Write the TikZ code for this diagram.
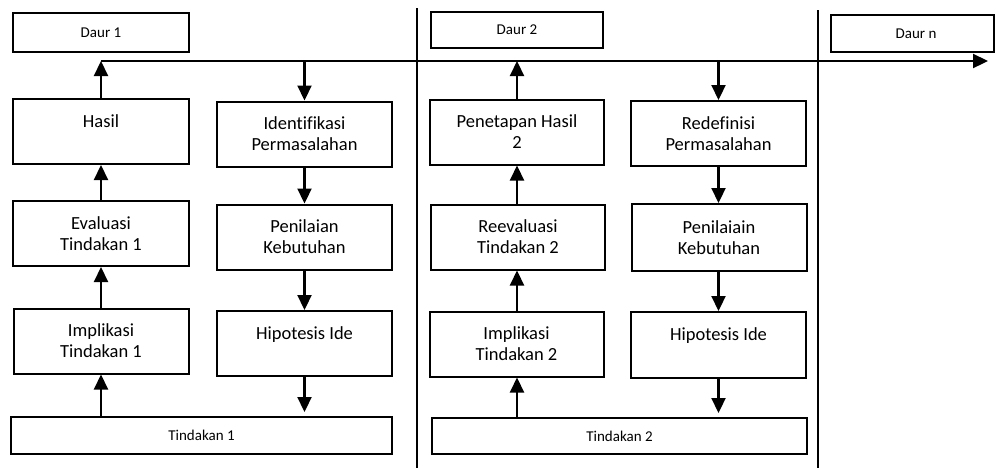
\documentclass[tikz,border=0pt]{standalone}
\usepackage{fontspec}
\setmainfont{Carlito}[Ligatures=NoCommon]
\usetikzlibrary{arrows.meta}

\begin{document}
\begin{tikzpicture}[x=1pt, y=-1pt, >={Triangle[length=15pt, width=14pt]},
  phase box/.style={draw, line width=2pt, minimum width=175pt, minimum height=65pt, inner sep=0pt, align=center, font=\fontsize{18.5}{21}\selectfont},
  cycle box/.style={draw, line width=2pt, minimum height=37pt, inner sep=0pt, font=\fontsize{15}{18}\selectfont},
  flow/.style={->, line width=2.2pt},
  divider/.style={line width=2pt}]
  \clip (0,0) rectangle (995,467);

  % Cycle headers and the two action bars.
  \node[cycle box, minimum width=176pt, minimum height=39pt] (daur1) at (101,32.5) {Daur 1};
  \node[cycle box, minimum width=172pt, minimum height=36pt] (daur2) at (517,30) {Daur 2};
  \node[cycle box, minimum width=163pt] (daurn) at (912.5,33.5) {\hspace*{7pt}Daur n};
  \node[cycle box, minimum width=381pt] (tindakan1) at (201.5,435.5) {Tindakan 1};
  \node[cycle box, minimum width=375pt, minimum height=36pt] (tindakan2) at (619.5,436) {Tindakan 2};

  % Cycle 1: going up on the left, down on the right.
  \node[phase box, minimum width=176pt] (hasil1) at (101,131.5) {Hasil\\\mbox{}};
  \node[phase box, minimum width=176pt] (evaluasi1) at (101,233.5) {Evaluasi\\Tindakan 1};
  \node[phase box] (implikasi1) at (101,341) {Implikasi\\Tindakan 1};
  \node[phase box] (identifikasi1) at (304.5,134) {Identifikasi\\Permasalahan};
  \node[phase box] (penilaian1) at (304.5,237) {Penilaian\\Kebutuhan};
  \node[phase box] (hipotesis1) at (304.5,343.5) {Hipotesis Ide\\\mbox{}};

  % Cycle 2
  \node[phase box, minimum width=174pt] (penetapan2) at (517,132) {Penetapan Hasil\\2};
  \node[phase box, minimum width=174pt] (reevaluasi2) at (518,237) {Reevaluasi\\Tindakan 2};
  \node[phase box, minimum width=174pt] (implikasi2) at (516.5,344) {Implikasi\\Tindakan 2};
  \node[phase box] (redefinisi2) at (718.5,133.5) {Redefinisi\\Permasalahan};
  \node[phase box, minimum height=67pt] (penilaian2) at (719,237.5) {Penilaiain\\Kebutuhan};
  \node[phase box, minimum height=66pt] (hipotesis2) at (718.5,345) {Hipotesis Ide\\\mbox{}};

  % Time line and the cycle dividers.
  \coordinate (start) at (101,61);
  \coordinate (end) at (988,61);
  \draw[flow] (start) -- (end);
  \draw[divider] (417,8) -- (417,470);
  \draw[divider] (818,10) -- (818,470);

  \draw[flow] (hasil1) -- (hasil1 |- start);
  \draw[flow] (evaluasi1) -- (hasil1);
  \draw[flow] (implikasi1) -- (evaluasi1);
  \draw[flow] (tindakan1.north -| implikasi1) -- (implikasi1);
  \draw[flow] (identifikasi1 |- start) -- (identifikasi1);
  \draw[flow] (identifikasi1) -- (penilaian1);
  \draw[flow] (penilaian1) -- (hipotesis1);
  \draw[flow, shorten >=4pt] (hipotesis1) -- (hipotesis1 |- tindakan1.north);

  \draw[flow] (penetapan2) -- (penetapan2 |- start);
  \draw[flow] (reevaluasi2.north -| penetapan2) -- (penetapan2);
  \draw[flow] (implikasi2.north -| penetapan2) -- (reevaluasi2.south -| penetapan2);
  \draw[flow] (tindakan2.north -| penetapan2) -- (implikasi2.south -| penetapan2);
  \draw[flow] (redefinisi2 |- start) -- (redefinisi2);
  \draw[flow] (redefinisi2) -- (redefinisi2 |- penilaian2.north);
  \draw[flow] (penilaian2.south -| redefinisi2) -- (redefinisi2 |- hipotesis2.north);
  \draw[flow, shorten >=4pt] (hipotesis2.south -| redefinisi2) -- (redefinisi2 |- tindakan2.north);
\end{tikzpicture}
\end{document}
